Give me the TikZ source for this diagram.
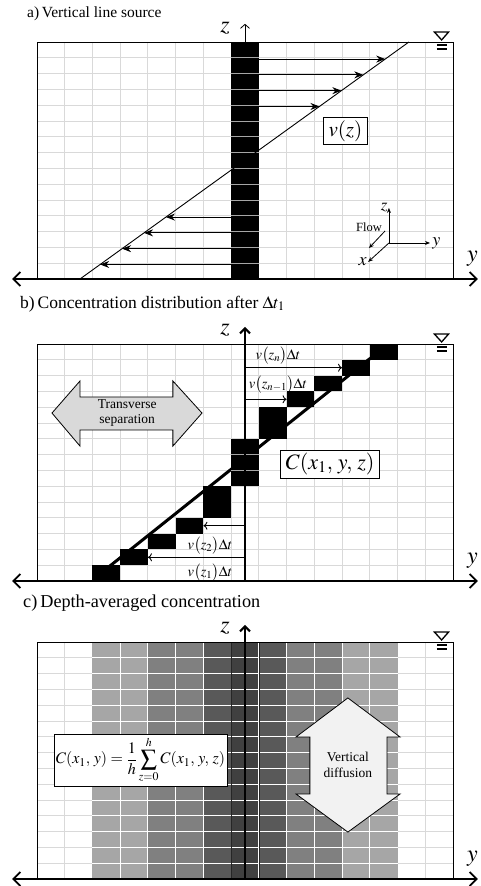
\documentclass[tikz,border=0pt]{standalone}
\usepackage{mathptmx}
\usepackage{fontspec}
\setmainfont{Liberation Serif}
\usetikzlibrary{arrows.meta}

\begin{document}
\begin{tikzpicture}[x=1pt, y=-1pt,
  cell/.style={x=27.733pt, y=-15.8pt},
  gridline/.style={draw=black!15, line width=0.9pt},
  frame/.style={draw=black, line width=0.8pt},
  ground/.style={line width=1.9pt, {Straight Barb[length=7pt,width=14pt]}-{Straight Barb[length=7pt,width=14pt]}},
  zaxis/.style={line width=2pt, -{Straight Barb[length=5pt,width=10pt]}},
  title/.style={anchor=west, inner sep=0pt, font=\fontsize{17.5}{20}\selectfont},
  axlabel/.style={inner sep=0pt, font=\fontsize{24}{26}\selectfont},
  flowarrow/.style={line width=0.9pt, -{Stealth[length=9pt,width=7pt]}},
  shiftarrow/.style={line width=0.9pt, -{To[length=4pt,width=8pt]}},
  triad/.style={line width=0.8pt, -{Stealth[length=5pt,width=4pt]}},
  labelbox/.style={draw, fill=white, line width=0.8pt, inner xsep=5pt, inner ysep=3pt},
  vlabel/.style={inner sep=0pt, font=\fontsize{14.5}{16}\selectfont},
  smalltext/.style={inner sep=0pt, align=center, font=\fontsize{13.5}{15.5}\selectfont},
  surface/.style={line width=1.3pt}]

\useasboundingbox (0,0) rectangle (481,886);

\node[title, font=\fontsize{15.5}{18}\selectfont] (ta) at (27,14) {a)\,Vertical line source};
\node[title] (tb) at (20,304) {b)\,Concentration distribution after $\Delta t_1$};
\node[title, font=\fontsize{18.2}{20}\selectfont] (tc) at (23,603) {c)\,Depth-averaged concentration};

\foreach \ytop in {42,344,642} {
  \begin{scope}[shift={(37,\ytop)}, cell]
    \foreach \i in {1,...,14} {
      \draw[gridline] (\i,0) -- (\i,15);
      \draw[gridline] (0,\i) -- (15,\i);
    }
  \end{scope}
}

\begin{scope}[shift={(37,42)}, cell]
  \fill (7,0) rectangle (8,15);
  \foreach \row in {1,...,14} \draw[gray!70, line width=0.9pt] (7,\row) -- (8,\row);
  \draw[line width=0.9pt] (1.55,15) -- (13.41,0);
  \foreach \row in {1,...,4}
    \draw[flowarrow] (8,\row+0.08) -- ({1.55+(14.92-\row)*0.7907},\row+0.08);
  \foreach \row in {11,...,14}
    \draw[flowarrow] (7,\row+0.08) -- ({1.55+(14.92-\row)*0.7907},\row+0.08);
  \draw[line width=0.8pt, -{Straight Barb[length=4pt,width=9pt]}] (7.5,0) -- (7.5,-1.15);
  \node[axlabel] (za) at (6.78,-0.89) {$z$};
  \node[labelbox, font=\fontsize{21}{23}\selectfont] (vz) at (11.12,5.63) {$v(z)$};
  \coordinate (o) at (12.69,12.72);
  \draw[triad] (o) -- (12.69,10.5) node[left, inner sep=1pt, font=\fontsize{17}{19}\selectfont] (tz) {$z$};
  \draw[triad] (o) -- (14.17,12.72) node[right, inner sep=2pt, font=\fontsize{18}{20}\selectfont] (ty) {$y$};
  \draw[triad] (o) -- (11.94,13.92) node[left, inner sep=1pt, font=\fontsize{18}{20}\selectfont] (tx) {$x$};
  \draw[triad] (12.55,11.96) -- (11.97,13.04);
  \node[inner sep=0pt, font=\fontsize{12.5}{14}\selectfont] (flow) at (11.97,11.71) {Flow};
\end{scope}

\begin{scope}[shift={(37,344)}, cell]
  \draw[line width=3pt] (2.45,14.3) -- (12.08,0.82);
  \foreach \row/\col in {0/12,1/11,2/10,3/9,4/8,5/8,6/7,7/7,8/7,9/6,10/6,11/5,12/4,13/3,14/2}
    \fill (\col,\row) rectangle ++(1,1);
  \foreach \row in {7,8} \draw[gray!70, line width=0.9pt] (7,\row) -- (8,\row);
  \draw[zaxis] (7.5,15) -- (7.5,-1.08);
  \node[axlabel] (zb) at (6.78,-0.89) {$z$};
  \draw[shiftarrow] (7.5,1.5) -- (11,1.5);
  \draw[shiftarrow] (7.5,3.5) -- (9,3.5);
  \draw[shiftarrow] (7.5,11.5) -- (6,11.5);
  \draw[shiftarrow] (7.5,13.5) -- (4,13.5);
  \node[vlabel] (vn) at (8.69,0.76) {$v\bigl(z_n\bigr)\Delta t$};
  \node[vlabel] (vm) at (8.69,2.6) {$v\bigl(z_{n-1}\bigr)\Delta t$};
  \node[vlabel] (v2) at (6.24,12.75) {$v\bigl(z_2\bigr)\Delta t$};
  \node[vlabel] (v1) at (6.24,14.46) {$v\bigl(z_1\bigr)\Delta t$};
  \draw[fill=gray!30, line width=0.8pt] (0.54,4.37) -- (1.55,2.34) -- (1.55,3.35) -- (4.9,3.35) -- (4.9,2.34)
    -- (5.95,4.37) -- (4.9,6.46) -- (4.9,5.44) -- (1.55,5.44) -- (1.55,6.46) -- cycle;
  \node[smalltext] (sep) at (3.25,4.37) {Transverse\\separation};
  \node[labelbox, font=\fontsize{22}{24}\selectfont] (conc) at (10.57,7.59) {$C(x_1,\, y,\, z)$};
\end{scope}

\begin{scope}[shift={(37,642)}, cell]
  \foreach \col/\g in {2/35,3/35,4/50,5/50,6/65,7/75,8/65,9/50,10/50,11/35,12/35}
    \fill[black!\g] (\col,0) rectangle (\col+1,15);
  \foreach \i in {1,...,14} \draw[white, line width=0.9pt] (2,\i) -- (13,\i);
  \foreach \i in {3,...,12} \draw[white, line width=0.9pt] (\i,0) -- (\i,15);
  \foreach \i in {7,8} \draw[black!85, line width=0.6pt] (\i,0) -- (\i,15);
  \draw[zaxis] (7.5,15) -- (7.5,-1.08);
  \node[axlabel] (zc) at (6.78,-0.89) {$z$};
  \node[labelbox, inner xsep=2pt, font=\fontsize{16}{18}\selectfont] (avg) at (3.73,7.47)
    {$\displaystyle C(x_1,\, y) = \frac{1}{h}\sum_{z=0}^{h} C(x_1,\, y,\, z)$};
  \draw[fill=gray!10, line width=0.8pt] (11.21,3.54) -- (13.09,6.01) -- (12.62,6.01) -- (12.62,9.62) -- (13.09,9.62)
    -- (11.21,12.03) -- (9.34,9.62) -- (9.84,9.62) -- (9.84,6.01) -- (9.34,6.01) -- cycle;
  \node[smalltext] (vd) at (11.21,7.78) {Vertical\\diffusion};
\end{scope}

\foreach \ytop/\p in {42/a,344/b,642/c} {
  \begin{scope}[shift={(37,\ytop)}, cell]
    \draw[frame] (0,15) -- (0,0) -- (15,0) -- (15,15);
    \draw[ground] (-0.9,15) -- (15.9,15);
    \node[axlabel] (y\p) at (15.7,13.7) {$y$};
    \draw[surface] (14.33,-0.63) -- (14.84,-0.63) -- (14.59,-0.13) -- cycle;
    \draw[surface] (14.42,0.19) -- (14.8,0.19) (14.42,0.44) -- (14.8,0.44);
  \end{scope}
}
\end{tikzpicture}
\end{document}
